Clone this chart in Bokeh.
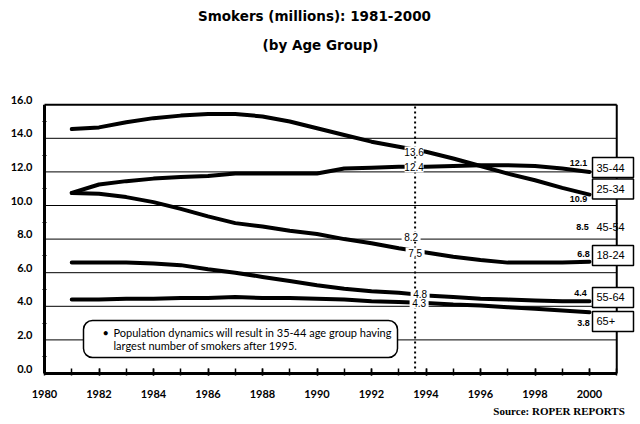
from bokeh.plotting import figure
from bokeh.models import (Range1d, FixedTicker, ColumnDataSource, LabelSet, Label,
                          LinearAxis, Title)
from bokeh.core.properties import value
from bokeh.embed import file_html
from bokeh.resources import INLINE

# ---------------- data ----------------
years = list(range(1981, 2001))
age_25_34 = [14.55, 14.65, 14.95, 15.2, 15.35, 15.45, 15.45, 15.3, 15.0, 14.6,
             14.2, 13.8, 13.5, 13.2, 12.8, 12.35, 11.9, 11.5, 11.05, 10.65]
age_35_44 = [10.75, 11.25, 11.45, 11.6, 11.7, 11.75, 11.9, 11.9, 11.9, 11.9,
             12.2, 12.25, 12.3, 12.3, 12.35, 12.4, 12.4, 12.35, 12.2, 12.0]
age_18_24 = [10.75, 10.7, 10.5, 10.2, 9.8, 9.35, 8.95, 8.75, 8.5, 8.3,
             8.0, 7.75, 7.45, 7.2, 6.95, 6.75, 6.6, 6.6, 6.6, 6.65]
age_55_64 = [6.6, 6.6, 6.6, 6.55, 6.45, 6.2, 6.0, 5.75, 5.5, 5.25,
             5.05, 4.9, 4.8, 4.65, 4.55, 4.45, 4.4, 4.35, 4.3, 4.3]
age_65_plus = [4.4, 4.4, 4.45, 4.45, 4.5, 4.5, 4.55, 4.5, 4.5, 4.45,
               4.4, 4.3, 4.25, 4.2, 4.1, 4.05, 3.95, 3.85, 3.75, 3.65]

groups = ["35-44", "25-34", "45-54", "18-24", "55-64", "65+"]
mid_year = 1993.6
mid_values = [12.4, 13.6, 8.2, 7.5, 4.8, 4.3]
end_year = 2000
end_values = [12.1, 10.9, 8.5, 6.8, 4.4, 3.8]
boxed = [True, True, False, True, True, True]

x_ticks = list(range(1980, 2001, 2))
x_minor = list(range(1981, 2002))
y_ticks = [0, 2, 4, 6, 8, 10, 12, 14, 16]
y_tick_labels = ["0.0", "2.0", "4.0", "6.0", "8.0", "10.0", "12.0", "14.0", "16.0"]
y_minor = [1, 3, 5, 7, 9, 11, 13, 15]

title1 = "Smokers (millions): 1981-2000"
title2 = "(by Age Group)"
note1 = "Population dynamics will result in 35-44 age group having"
note2 = "largest number of smokers after 1995."
source_text = "Source:  ROPER REPORTS"

# ---------------- layout helpers ----------------
PXX = 27.25   # px per year
PXY = 16.8    # px per million
X0_PX, Y0_PX = 44, 373   # canvas px of (1980, 0)


def px2x(px):
    return 1980 + (px - X0_PX) / PXX


def px2y(py):
    return (Y0_PX - py) / PXY


W, H = 636, 420
FRAME_L, FRAME_B = 42, 375
y_lo, y_hi = px2y(FRAME_B), px2y(0)
lab_shift = 5 / PXY   # tick labels sit 5px above their grid lines

p = figure(width=W, height=H, x_range=Range1d(px2x(FRAME_L), px2x(W)),
           y_range=Range1d(y_lo, y_hi), y_axis_location=None,
           output_backend="svg", toolbar_location=None,
           min_border_left=FRAME_L, min_border_right=0,
           min_border_top=0, min_border_bottom=H - FRAME_B)
p.outline_line_color = None
p.grid.visible = False
p.background_fill_color = "white"
p.title.text = ""
p.title.visible = False

LAB = "Lato"
ARIAL = "Liberation Sans"
HEAD = "DejaVu Sans"

# x axis
xa = p.xaxis[0]
xa.ticker = FixedTicker(ticks=x_ticks, minor_ticks=x_minor)
xa.axis_line_color = None
xa.major_tick_in = 7
xa.major_tick_out = 0
xa.minor_tick_in = 7
xa.minor_tick_out = 0
xa.major_tick_line_width = 1.5
xa.minor_tick_line_width = 1.5
xa.major_tick_line_color = "black"
xa.minor_tick_line_color = "black"
xa.major_label_standoff = 14
xa.major_label_text_font = LAB
xa.major_label_text_font_style = "bold"
xa.major_label_text_font_size = "11px"
xa.major_label_text_color = "black"

# y axis (labels lifted above the grid lines through a shifted range)
p.extra_y_ranges = {"lab": Range1d(y_lo - lab_shift, y_hi - lab_shift)}
ya = LinearAxis(y_range_name="lab",
                ticker=FixedTicker(ticks=y_ticks, minor_ticks=[v - lab_shift for v in y_minor]),
                major_label_overrides={v: s for v, s in zip(y_ticks, y_tick_labels)})
ya.axis_line_color = None
ya.major_tick_in = 0
ya.major_tick_out = 0
ya.minor_tick_in = 4
ya.minor_tick_out = 0
ya.minor_tick_line_color = "black"
ya.major_label_standoff = 10
ya.major_label_text_font = LAB
ya.major_label_text_font_style = "bold"
ya.major_label_text_font_size = "11px"
ya.major_label_text_color = "black"
p.add_layout(ya, "left")

# grid lines & frame
grid_vals = y_ticks[1:-1]
p.segment(x0=[1980] * len(grid_vals), y0=grid_vals, x1=[2001] * len(grid_vals),
          y1=grid_vals, line_color="black", line_width=1)
p.segment(x0=[1980], y0=[16], x1=[2001], y1=[16], line_color="black", line_width=2)
p.segment(x0=[1980], y0=[0], x1=[2001], y1=[0], line_color="black", line_width=3)
p.segment(x0=[2001], y0=[0], x1=[2001], y1=[16], line_color="black", line_width=2)
p.segment(x0=[1980], y0=[0], x1=[1980], y1=[16], line_color="black", line_width=3)

# callout box
p.quad(left=[px2x(83)], right=[px2x(397)], top=[px2y(320)], bottom=[px2y(357)],
       fill_color="white", line_color="black", line_width=1.5, border_radius=9)
p.add_layout(Label(x=px2x(102), y=px2y(332), text="\u2022", text_font=LAB,
                   text_font_size="11px", text_baseline="middle", text_color="black"))
p.add_layout(Label(x=px2x(113), y=px2y(332), text=note1, text_font=LAB,
                   text_font_size="11px", text_baseline="middle", text_color="black"))
p.add_layout(Label(x=px2x(113), y=px2y(345), text=note2, text_font=LAB,
                   text_font_size="11px", text_baseline="middle", text_color="black"))

# series lines
for vals in [age_25_34, age_35_44, age_18_24, age_55_64, age_65_plus]:
    p.line(years, vals, line_color="black", line_width=4, line_join="round", line_cap="round")

# dotted marker
p.segment(x0=[mid_year], y0=[0], x1=[mid_year], y1=[16], line_color="black",
          line_width=2, line_dash="2 3")

# mid-year value labels (white patches cut the lines behind them)
mid_dx = [-1, -1, -4, 0, 5, 4]
mid_dy = [-2.3, -6.5, -0.8, -5, -1.6, -2.2]
mx = [mid_year + d / PXX for d in mid_dx]
my = [v + d / PXY for v, d in zip(mid_values, mid_dy)]
p.rect(x=mx, y=my, width=19, height=10, width_units="screen", height_units="screen",
       fill_color="white", line_color=None)
msrc = ColumnDataSource(dict(x=mx, y=my, t=[f"{v:.1f}" for v in mid_values]))
p.add_layout(LabelSet(x="x", y="y", text="t", source=msrc,
                      text_align="center", text_baseline="middle", text_font=value(ARIAL),
                      text_font_size="10px", text_color="black"))

# end value labels
end_dx = [-11, -11, -7, -6, -9, -6]
end_dy = [7.7, -9.1, 4.2, 4.8, 6.1, -13.8]
esrc = ColumnDataSource(dict(x=[end_year] * 6, y=end_values,
                             t=[f"{v:.1f}" for v in end_values], dx=end_dx, dy=end_dy))
p.add_layout(LabelSet(x="x", y="y", text="t", source=esrc, x_offset="dx", y_offset="dy",
                      text_align="center", text_baseline="middle", text_font=value(ARIAL),
                      text_font_style="bold", text_font_size="9px", text_color="black"))

# group name boxes
box_dy = [2.7, 1.4, 4.2, 3.8, 2.1, -11.8]
bx = [end_year + 23.5 / PXX for b in boxed if b]
by = [v + d / PXY for v, d, b in zip(end_values, box_dy, boxed) if b]
p.rect(x=bx, y=by, width=41, height=20, width_units="screen", height_units="screen",
       fill_color="white", line_color="black", line_width=1.5)
gsrc = ColumnDataSource(dict(x=[end_year] * 6, y=[v + d / PXY for v, d in zip(end_values, box_dy)],
                             t=groups))
p.add_layout(LabelSet(x="x", y="y", text="t", source=gsrc, x_offset=7,
                      text_align="left", text_baseline="middle", text_font=value(ARIAL),
                      text_font_size="11px", text_color="black"))

# titles
p.add_layout(Label(x=px2x(314), y=px2y(15), text=title1, text_align="center",
                   text_baseline="middle", text_font=HEAD, text_font_style="bold",
                   text_font_size="13.5px", text_color="black"))
p.add_layout(Label(x=px2x(320), y=px2y(44), text=title2, text_align="center",
                   text_baseline="middle", text_font=HEAD, text_font_style="bold",
                   text_font_size="13.5px", text_color="black"))

# source note below the axis
src_title = Title(text=source_text, align="right", text_font="Liberation Serif",
                  text_font_style="bold", text_font_size="11px", text_color="black",
                  standoff=4, offset=9)
p.add_layout(src_title, "below")

open("out.html", "w").write(file_html(p, INLINE))
